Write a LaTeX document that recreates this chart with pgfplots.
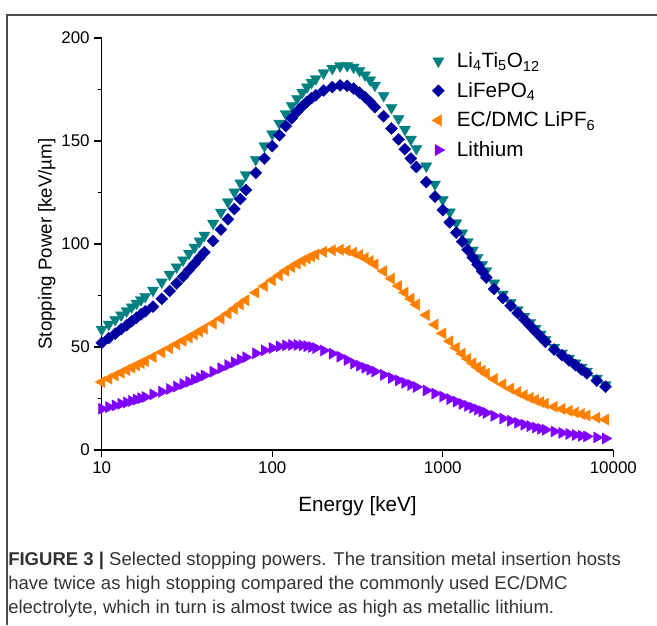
\documentclass[border=0pt]{standalone}
\usepackage{fontspec}
\setmainfont{Liberation Sans}
\usepackage{pgfplots}
\usepackage{pgfplotstable}
\pgfplotsset{compat=1.18}
\definecolor{ltoc}{RGB}{0,128,128}
\definecolor{lfpc}{RGB}{0,0,160}
\definecolor{ecc}{RGB}{255,128,0}
\definecolor{lic}{RGB}{128,0,255}

% energy [keV], stopping power [keV/um]
\pgfplotstableread{
E     lto    lfp    ec    li
10    58.5   52.0   33.0  20.0
11    61.0   54.3   34.6  20.8
12    63.3   56.5   36.1  21.6
13    65.5   58.6   37.5  22.4
14    67.5   60.6   38.8  23.1
15    69.4   62.5   40.0  23.8
16    71.2   64.2   41.1  24.5
17    72.9   65.8   42.2  25.1
18    74.5   67.3   43.2  25.7
20    77.5   69.6   45.2  27.0
22.5  81.5   73.4   47.4  28.3
25    85.3   77.2   49.4  29.6
27.5  88.8   80.8   51.3  30.8
30    92.2   84.2   53.0  32.0
32.5  95.4   87.4   54.6  33.1
35    98.4   90.4   56.1  34.2
37.5  101.4  93.3   57.5  35.2
40    104.2  96.0   58.9  36.2
45    110.0  101.5  61.4  38.0
50    115.4  107.0  63.8  39.7
55    120.4  112.0  66.2  41.2
60    125.2  117.0  68.5  42.6
65    129.6  121.8  70.7  43.9
70    133.6  126.2  72.7  45.0
80    141.0  134.5  76.4  46.9
90    147.6  141.5  79.6  48.4
100   153.4  147.5  82.4  49.5
110   158.6  152.8  84.8  50.3
120   163.2  157.2  87.0  50.8
130   167.2  161.0  88.8  51.0
140   170.6  164.2  90.4  51.0
150   173.6  166.8  91.8  50.8
160   176.2  169.0  93.0  50.4
170   178.4  170.8  94.0  50.0
180   180.2  172.2  94.9  49.5
200   183.0  174.5  96.2  48.3
225   185.2  176.2  97.0  46.8
250   186.4  177.0  97.2  45.3
275   186.6  176.8  96.8  43.7
300   185.8  175.5  95.8  42.0
325   184.2  173.5  94.6  40.9
350   182.0  171.3  93.2  39.9
375   179.6  168.9  91.7  39.0
400   177.0  166.4  90.1  38.1
450   172.0  162.0  86.8  36.5
500   166.2  156.1  83.2  35.0
550   160.8  150.8  79.6  33.8
600   155.6  146.0  76.4  32.6
650   150.8  141.5  73.4  31.6
700   146.3  137.4  70.6  30.6
800   137.8  130.0  65.5  28.9
900   129.0  123.0  60.9  27.4
1000  121.5  116.5  56.6  26.0
1100  115.5  110.5  52.8  24.7
1200  110.2  105.5  49.6  23.5
1300  105.3  101.2  46.8  22.4
1400  101.0  97.2   44.3  21.4
1500  97.0   93.5   42.1  20.5
1600  93.4   90.0   40.2  19.6
1700  90.0   86.8   38.5  18.8
1800  87.0   83.7   37.0  18.0
2000  81.0   78.2   34.4  16.6
2250  75.6   73.8   31.9  15.3
2500  71.5   70.0   29.8  14.2
2750  68.0   66.5   28.1  13.2
3000  64.8   63.3   26.6  12.3
3250  61.8   60.3   25.3  11.6
3500  59.0   57.5   24.3  10.9
3750  56.2   55.0   23.3  10.3
4000  53.6   52.5   22.5  9.8
4500  49.8   48.8   21.0  9.0
5000  47.0   46.0   19.9  8.3
5500  44.5   43.5   19.0  7.8
6000  42.2   41.2   18.2  7.3
6500  40.1   39.1   17.5  6.9
7000  38.2   37.2   16.8  6.6
8000  34.8   33.7   15.7  6.1
9000  31.6   30.7   14.8  5.6
}\data

\begin{document}
\begin{tikzpicture}
\useasboundingbox (0pt,0pt) rectangle (492.75pt,468.75pt);
\draw[line width=0.9pt, black!70] (5.25pt,0pt) -- (5.25pt,457.5pt) -- (492.75pt,457.5pt);

\begin{axis}[
  at={(76.28pt,131.25pt)}, anchor=south west,
  scale only axis, width=383.7pt, height=309pt,
  xmode=log, log basis x=10,
  xmin=10, xmax=10000, ymin=0, ymax=200,
  axis lines=left, axis line style={-, line width=0.9pt, black},
  xtick={10,100,1000,10000}, xticklabels={10,100,1000,10000},
  ytick={0,50,100,150,200}, minor ytick={25,75,125,175},
  tick align=outside, major tick length=5.5pt, minor tick length=3pt,
  every tick/.style={black, line width=0.8pt},
  tick label style={font=\fontsize{12.7}{14}\selectfont},
  /pgf/number format/assume math mode=true,
  xlabel={Energy [keV]}, ylabel={Stopping Power [keV/µm]},
  xlabel style={font=\fontsize{15.5}{18}\selectfont, yshift=-10pt},
  ylabel style={font=\fontsize{14}{17}\selectfont, yshift=-2.5pt},
  clip=false,
  legend style={at={(rel axis cs:0.637,0.978)}, anchor=north west, draw=none, fill=none,
    font=\fontsize{15.5}{17}\selectfont, row sep=5.5pt,
    /tikz/every odd column/.append style={column sep=7pt}},
  legend cell align=left,
]
\addplot[only marks, color=ltoc, mark=triangle*, mark size=4.9pt,
  mark options={rotate=180, fill=ltoc, draw=ltoc, line width=0.2pt}]
  table[x=E, y=lto]{\data};
\addlegendentry{Li\textsubscript{4}Ti\textsubscript{5}O\textsubscript{12}}
\addplot[only marks, color=lfpc, mark=square*, mark size=3.2pt,
  mark options={rotate=45, fill=lfpc, draw=lfpc, line width=0.2pt}]
  table[x=E, y=lfp]{\data};
\addlegendentry{LiFePO\textsubscript{4}}
\addplot[only marks, color=ecc, mark=triangle*, mark size=4.9pt,
  mark options={rotate=90, fill=ecc, draw=ecc, line width=0.2pt}]
  table[x=E, y=ec]{\data};
\addlegendentry{EC/DMC LiPF\textsubscript{6}}
\addplot[only marks, color=lic, mark=triangle*, mark size=4.9pt,
  mark options={rotate=-90, fill=lic, draw=lic, line width=0.2pt}]
  table[x=E, y=li]{\data};
\addlegendentry{Lithium}
\end{axis}

\begin{scope}[every node/.style={anchor=base west, inner sep=0pt, text=black!80,
    font=\fontsize{13.9}{16}\selectfont}]
\node at (6pt,45pt) {\textbf{FIGURE 3 |} Selected stopping powers. The transition metal insertion hosts};
\node at (6pt,26.3pt) {have twice as high stopping compared the commonly used EC/DMC};
\node at (6pt,8.3pt) {electrolyte, which in turn is almost twice as high as metallic lithium.};
\end{scope}
\end{tikzpicture}
\end{document}
